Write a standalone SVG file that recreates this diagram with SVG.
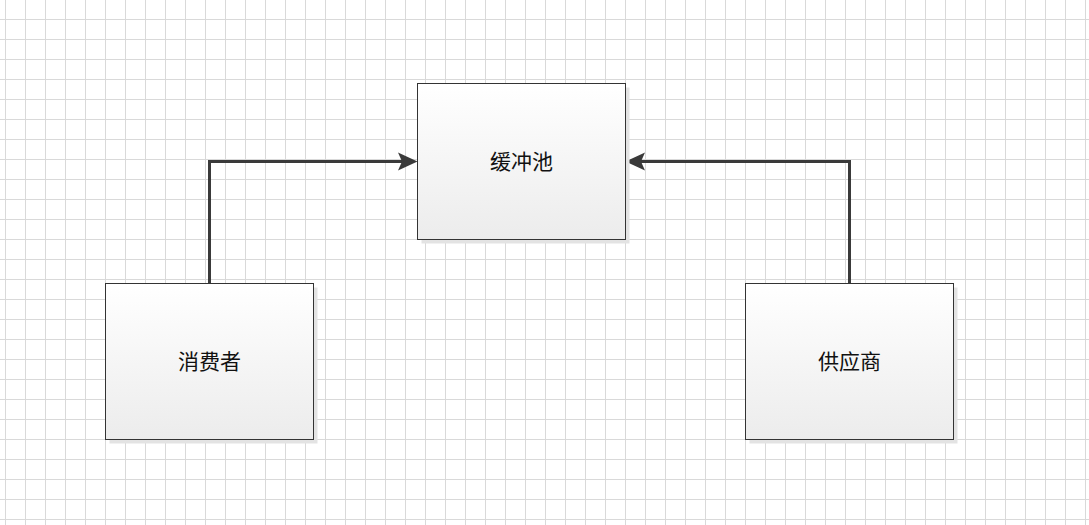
<svg xmlns="http://www.w3.org/2000/svg" width="1089" height="525" viewBox="0 0 1089 525">
  <defs>
    <pattern id="grid" x="5" y="19" width="20" height="20" patternUnits="userSpaceOnUse">
      <path d="M0.5 0 V20 M0 0.5 H20" fill="none" stroke="#d9d9d9" stroke-width="1"/>
    </pattern>
    <linearGradient id="boxFill" x1="0" y1="0" x2="0" y2="1">
      <stop offset="0" stop-color="#ffffff"/>
      <stop offset="1" stop-color="#ececec"/>
    </linearGradient>
  </defs>
  <style>
    .shadow { fill: #e3e3e3; }
    .box { fill: url(#boxFill); stroke: #333333; stroke-width: 1; }
    .label { font-family: "Noto Sans CJK SC", "Noto Sans CJK JP", sans-serif; font-size: 21px; fill: #111111; text-anchor: middle; dominant-baseline: central; }
    .conn { fill: none; stroke: #3a3a3a; stroke-width: 3; }
    .head { fill: #3a3a3a; }
  </style>
  <rect x="0" y="0" width="1089" height="525" fill="#ffffff"/>
  <rect x="0" y="0" width="1089" height="525" fill="url(#grid)"/>

  <g id="connectors">
    <path class="conn" d="M209.5 283.5 V161.5 H402"/>
    <path class="head" d="M417.5 161.5 L398 152.5 L402 161.5 L398 170.5 Z"/>
    <path class="conn" d="M849.5 283.5 V161.5 H641"/>
    <path class="head" d="M625.5 161.5 L645 152.5 L641 161.5 L645 170.5 Z"/>
  </g>

  <g id="node-buffer">
    <rect class="shadow" x="421.5" y="87.5" width="208" height="156"/>
    <rect class="box" x="417.5" y="83.5" width="208" height="156"/>
    <text class="label" x="521.5" y="160">缓冲池</text>
  </g>

  <g id="node-consumer">
    <rect class="shadow" x="109.5" y="287.5" width="208" height="156"/>
    <rect class="box" x="105.5" y="283.5" width="208" height="156"/>
    <text class="label" x="209.5" y="360">消费者</text>
  </g>

  <g id="node-supplier">
    <rect class="shadow" x="749.5" y="287.5" width="208" height="156"/>
    <rect class="box" x="745.5" y="283.5" width="208" height="156"/>
    <text class="label" x="849.5" y="360">供应商</text>
  </g>
</svg>
